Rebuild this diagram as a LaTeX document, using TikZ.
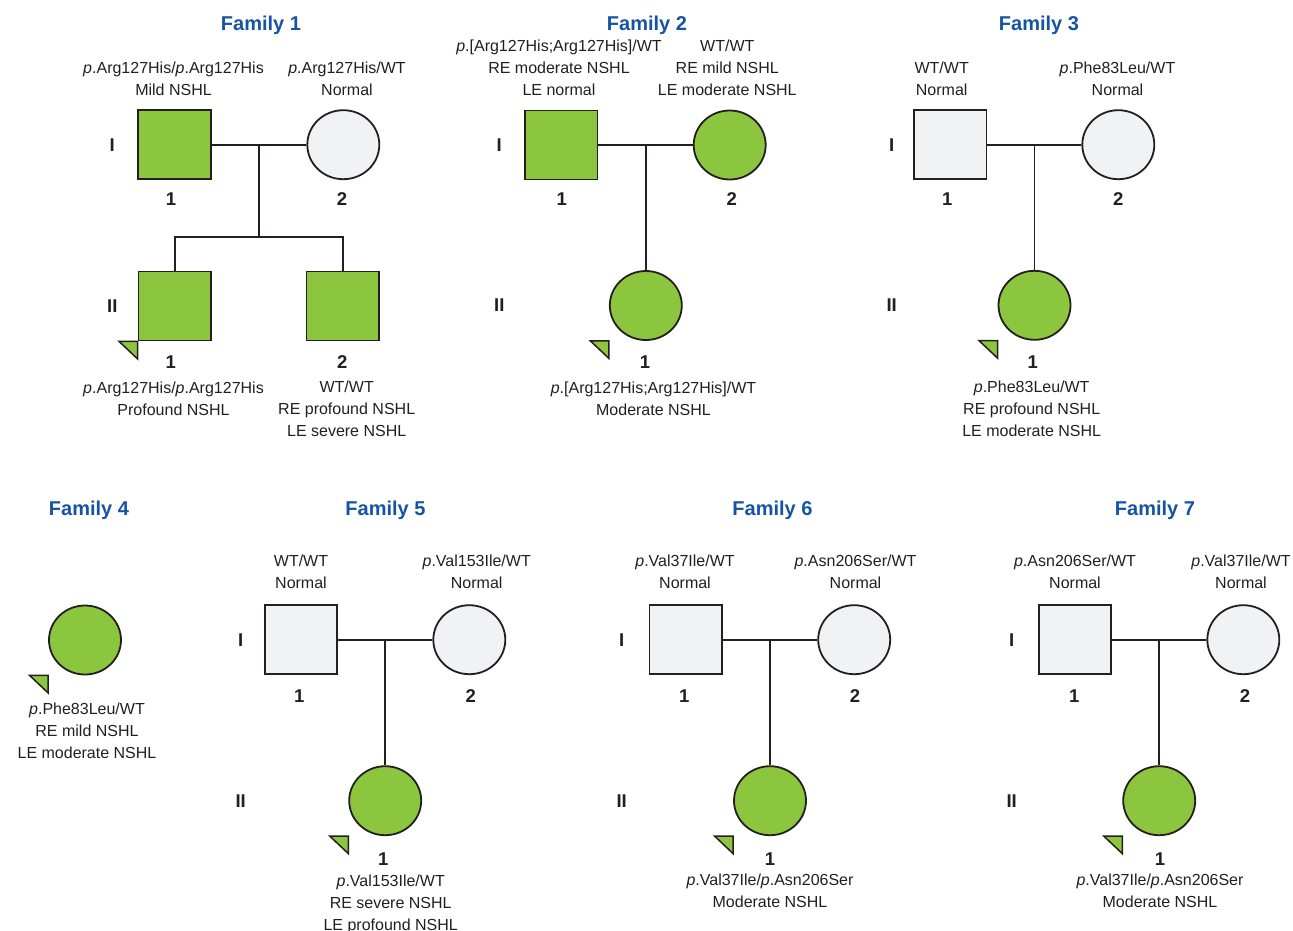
\documentclass[tikz,border=0pt]{standalone}
\usepackage{fontspec}
\setmainfont{Liberation Sans}
\usetikzlibrary{shapes.geometric,calc}
\definecolor{affgreen}{RGB}{140,198,63}
\definecolor{unaffgrey}{RGB}{241,242,243}
\definecolor{inkc}{RGB}{35,31,32}
\definecolor{titleblue}{RGB}{22,84,163}
\tikzset{
  male/.style={rectangle, draw=inkc, line width=1.8pt, minimum width=72.5pt, minimum height=69pt, inner sep=0pt},
  female/.style={ellipse, draw=inkc, line width=1.8pt, minimum width=72pt, minimum height=69pt, inner sep=0pt},
  aff/.style={fill=affgreen},
  unaff/.style={fill=unaffgrey},
  lbl/.style={font=\fontsize{16}{21.7}\selectfont, text=inkc, anchor=base, align=center, inner sep=0pt},
  num/.style={font=\bfseries\fontsize{18.5}{20}\selectfont, text=inkc, anchor=base, inner sep=0pt},
  gen/.style={font=\bfseries\fontsize{18.5}{20}\selectfont, text=inkc, anchor=center, inner sep=0pt},
  ftitle/.style={font=\bfseries\fontsize{20}{24}\selectfont, text=titleblue, anchor=base, inner sep=0pt},
  rel/.style={draw=inkc, line width=1.8pt},
  probtri/.style={fill=affgreen, draw=inkc, line width=1.5pt, line join=miter}
}
\newcommand{\proband}[1]{%
  \draw[probtri] ($(#1.west|-#1.south)+(-18.5,0)$) -- (#1.west|-#1.south) -- ($(#1.west|-#1.south)+(0,17.5)$) -- cycle;}
\begin{document}
\begin{tikzpicture}[x=1pt,y=-1pt]
\useasboundingbox (0,0) rectangle (1293,930);

% ---------------- Family 1
\node[ftitle] (t1) at (261,30) {Family 1};
\node[male,aff] (f1a) at (174.5,144.7) {};
\node[female,unaff] (f1b) at (343.3,144.7) {};
\node[male,aff] (f1c) at (174.7,306) {};
\node[male,aff] (f1d) at (342.7,306) {};
\coordinate (f1m) at ($(f1a.east)!0.5!(f1b.west)$);
\coordinate (f1s) at (259,237);
\draw[rel] (f1a.east) -- (f1b.west);
\draw[rel] (f1m) -- (f1s);
\draw[rel] (f1c.north) -- (f1c.north|-f1s) -- (f1d.north|-f1s) -- (f1d.north);
\proband{f1c}
\node[lbl] (f1al) at (173.5,95) {\textit{p}.Arg127His/\textit{p}.Arg127His\\Mild NSHL};
\node[lbl] (f1bl) at (347,95) {\textit{p}.Arg127His/WT\\Normal};
\node[lbl] (f1cl) at (173.5,415) {\textit{p}.Arg127His/\textit{p}.Arg127His\\Profound NSHL};
\node[lbl] (f1dl) at (346.7,436) {WT/WT\\RE profound NSHL\\LE severe NSHL};
\node[num] (f1an) at (171,205) {1};
\node[num] (f1bn) at (342,205) {2};
\node[num] (f1cn) at (170.7,368.3) {1};
\node[num] (f1dn) at (342.3,368.3) {2};
\node[gen] (f1g1) at (112.3,144.7) {I};
\node[gen] (f1g2) at (112.3,306) {II};

% ---------------- Family 2
\node[ftitle] (t2) at (647,30) {Family 2};
\node[male,aff] (f2a) at (561.3,145) {};
\node[female,aff] (f2b) at (729.7,145) {};
\node[female,aff] (f2c) at (645.8,305.5) {};
\coordinate (f2m) at ($(f2a.east)!0.5!(f2b.west)$);
\draw[rel] (f2a.east) -- (f2b.west);
\draw[rel] (f2m) -- (f2m|-f2c.north);
\proband{f2c}
\node[lbl] (f2al) at (559,95) {\textit{p}.[Arg127His;Arg127His]/WT\\RE moderate NSHL\\LE normal};
\node[lbl] (f2bl) at (727.3,95) {WT/WT\\RE mild NSHL\\LE moderate NSHL};
\node[lbl] (f2cl) at (653.5,415) {\textit{p}.[Arg127His;Arg127His]/WT\\Moderate NSHL};
\node[num] (f2an) at (561.7,205) {1};
\node[num] (f2bn) at (731.7,205) {2};
\node[num] (f2cn) at (645,368.3) {1};
\node[gen] (f2g1) at (499.3,145) {I};
\node[gen] (f2g2) at (499.3,305.5) {II};

% ---------------- Family 3
\node[ftitle] (t3) at (1039,30) {Family 3};
\node[male,unaff] (f3a) at (950.3,144.7) {};
\node[female,unaff] (f3b) at (1118.3,144.7) {};
\node[female,aff] (f3c) at (1034.5,305.3) {};
\coordinate (f3m) at ($(f3a.east)!0.5!(f3b.west)$);
\draw[rel] (f3a.east) -- (f3b.west);
\draw[rel] (f3m) -- (f3m|-f3c.north);
\proband{f3c}
\node[lbl] (f3al) at (941.7,95) {WT/WT\\Normal};
\node[lbl] (f3bl) at (1117.5,95) {\textit{p}.Phe83Leu/WT\\Normal};
\node[lbl] (f3cl) at (1031.7,436) {\textit{p}.Phe83Leu/WT\\RE profound NSHL\\LE moderate NSHL};
\node[num] (f3an) at (947.3,205) {1};
\node[num] (f3bn) at (1118.3,205) {2};
\node[num] (f3cn) at (1032.7,368.3) {1};
\node[gen] (f3g1) at (891.7,144.7) {I};
\node[gen] (f3g2) at (891.7,305.3) {II};

% ---------------- Family 4
\node[ftitle] (t4) at (89,515) {Family 4};
\node[female,aff] (f4a) at (85,640) {};
\proband{f4a}
\node[lbl] (f4al) at (87,758) {\textit{p}.Phe83Leu/WT\\RE mild NSHL\\LE moderate NSHL};

% ---------------- Family 5
\node[ftitle] (t5) at (385.5,515) {Family 5};
\node[male,unaff] (f5a) at (301,639.7) {};
\node[female,unaff] (f5b) at (469.3,639.7) {};
\node[female,aff] (f5c) at (385.2,800.7) {};
\coordinate (f5m) at ($(f5a.east)!0.5!(f5b.west)$);
\draw[rel] (f5a.east) -- (f5b.west);
\draw[rel] (f5m) -- (f5m|-f5c.north);
\proband{f5c}
\node[lbl] (f5al) at (301,588.4) {WT/WT\\Normal};
\node[lbl] (f5bl) at (476.7,588.4) {\textit{p}.Val153Ile/WT\\Normal};
\node[lbl] (f5cl) at (390.7,930) {\textit{p}.Val153Ile/WT\\RE severe NSHL\\LE profound NSHL};
\node[num] (f5an) at (299.3,702.3) {1};
\node[num] (f5bn) at (470.7,702.3) {2};
\node[num] (f5cn) at (383.3,865) {1};
\node[gen] (f5g1) at (240.7,639.7) {I};
\node[gen] (f5g2) at (240.7,800.7) {II};

% ---------------- Family 6
\node[ftitle] (t6) at (772.5,515) {Family 6};
\node[male,unaff] (f6a) at (685.8,639.7) {};
\node[female,unaff] (f6b) at (854.2,639.7) {};
\node[female,aff] (f6c) at (770,800.7) {};
\coordinate (f6m) at ($(f6a.east)!0.5!(f6b.west)$);
\draw[rel] (f6a.east) -- (f6b.west);
\draw[rel] (f6m) -- (f6m|-f6c.north);
\proband{f6c}
\node[lbl] (f6al) at (685,588.4) {\textit{p}.Val37Ile/WT\\Normal};
\node[lbl] (f6bl) at (855.5,588.4) {\textit{p}.Asn206Ser/WT\\Normal};
\node[lbl] (f6cl) at (770,907.5) {\textit{p}.Val37Ile/\textit{p}.Asn206Ser\\Moderate NSHL};
\node[num] (f6an) at (684.3,702.3) {1};
\node[num] (f6bn) at (855,702.3) {2};
\node[num] (f6cn) at (770,865) {1};
\node[gen] (f6g1) at (621.7,639.7) {I};
\node[gen] (f6g2) at (621.7,800.7) {II};

% ---------------- Family 7
\node[ftitle] (t7) at (1155,515) {Family 7};
\node[male,unaff] (f7a) at (1075,639.7) {};
\node[female,unaff] (f7b) at (1243.3,639.7) {};
\node[female,aff] (f7c) at (1159.2,800.7) {};
\coordinate (f7m) at ($(f7a.east)!0.5!(f7b.west)$);
\draw[rel] (f7a.east) -- (f7b.west);
\draw[rel] (f7m) -- (f7m|-f7c.north);
\proband{f7c}
\node[lbl] (f7al) at (1075,588.4) {\textit{p}.Asn206Ser/WT\\Normal};
\node[lbl] (f7bl) at (1241,588.4) {\textit{p}.Val37Ile/WT\\Normal};
\node[lbl] (f7cl) at (1160,907.5) {\textit{p}.Val37Ile/\textit{p}.Asn206Ser\\Moderate NSHL};
\node[num] (f7an) at (1074.3,702.3) {1};
\node[num] (f7bn) at (1245,702.3) {2};
\node[num] (f7cn) at (1160,865) {1};
\node[gen] (f7g1) at (1011.7,639.7) {I};
\node[gen] (f7g2) at (1011.7,800.7) {II};
\end{tikzpicture}
\end{document}
